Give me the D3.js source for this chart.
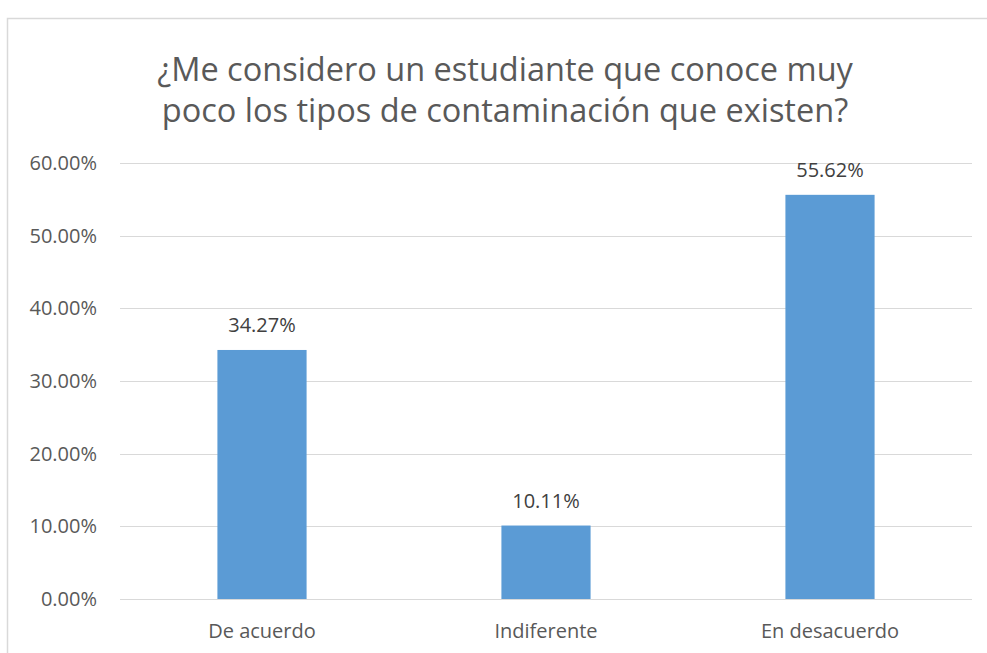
<!DOCTYPE html>
<meta charset="utf-8">
<html>
<head>
<script src="https://d3js.org/d3.v7.min.js"></script>
<style>
  body { margin: 0; background: #fff; }
  text { font-family: "Open Sans", sans-serif; }
</style>
</head>
<body>
<svg id="chart" width="987" height="653"></svg>
</body>
</html>
<script>

// Data
var categories = ["De acuerdo", "Indiferente", "En desacuerdo"];
var values = [34.27, 10.11, 55.62];
var yTicks = [0, 10, 20, 30, 40, 50, 60];
var titleLines = ["¿Me considero un estudiante que conoce muy", "poco los tipos de contaminación que existen?"];

var svg = d3.select("#chart"),
  width = +svg.attr("width"),
  height = +svg.attr("height");

// chart border
svg.append("rect")
  .attr("x", 7.5).attr("y", 18.5)
  .attr("width", 1000).attr("height", 700)
  .attr("fill", "none")
  .attr("stroke", "#d9d9d9")
  .attr("stroke-width", 1.5);

var margin = {left: 120, right: 15, top: 163, bottom: 54};

var x = d3.scaleBand()
  .domain(categories)
  .range([margin.left, width - margin.right])
  .paddingInner(0.686)
  .paddingOuter(0.343);

var y = d3.scaleLinear()
  .domain([0, 60])
  .range([height - margin.bottom, margin.top]);

// gridlines
svg.append("g")
  .selectAll("line")
  .data(yTicks)
  .enter()
  .append("line")
    .attr("x1", margin.left)
    .attr("x2", width - margin.right)
    .attr("y1", function(d) { return Math.round(y(d)) + 0.5; })
    .attr("y2", function(d) { return Math.round(y(d)) + 0.5; })
    .attr("stroke", "#d9d9d9")
    .attr("stroke-width", 1);

// y tick labels
svg.append("g")
  .selectAll("text")
  .data(yTicks)
  .enter()
  .append("text")
    .attr("x", 97)
    .attr("y", function(d) { return y(d); })
    .attr("dy", "0.35em")
    .attr("text-anchor", "end")
    .attr("font-size", 20)
    .attr("fill", "#595959")
    .text(function(d) { return d3.format(".2f")(d) + "%"; });

// bars
svg.append("g")
  .selectAll("rect")
  .data(values)
  .enter()
  .append("rect")
    .attr("x", function(d, i) { return x(categories[i]); })
    .attr("y", function(d) { return y(d); })
    .attr("width", x.bandwidth())
    .attr("height", function(d) { return y(0) - y(d); })
    .attr("fill", "#5b9bd5");

// value labels
svg.append("g")
  .selectAll("text")
  .data(values)
  .enter()
  .append("text")
    .attr("x", function(d, i) { return x(categories[i]) + x.bandwidth() / 2; })
    .attr("y", function(d) { return y(d) - 25; })
    .attr("dy", "0.35em")
    .attr("text-anchor", "middle")
    .attr("font-size", 20)
    .attr("fill", "#404040")
    .text(function(d) { return d.toFixed(2) + "%"; });

// category labels
svg.append("g")
  .selectAll("text")
  .data(categories)
  .enter()
  .append("text")
    .attr("x", function(d) { return x(d) + x.bandwidth() / 2; })
    .attr("y", 631)
    .attr("dy", "0.35em")
    .attr("text-anchor", "middle")
    .attr("font-size", 20)
    .attr("fill", "#595959")
    .text(function(d) { return d; });

// title
svg.append("g")
  .selectAll("text")
  .data(titleLines)
  .enter()
  .append("text")
    .attr("x", 505)
    .attr("y", function(d, i) { return 70 + i * 41; })
    .attr("dy", "0.35em")
    .attr("text-anchor", "middle")
    .attr("font-size", 32.5)
    .attr("fill", "#595959")
    .text(function(d) { return d; });

</script>
